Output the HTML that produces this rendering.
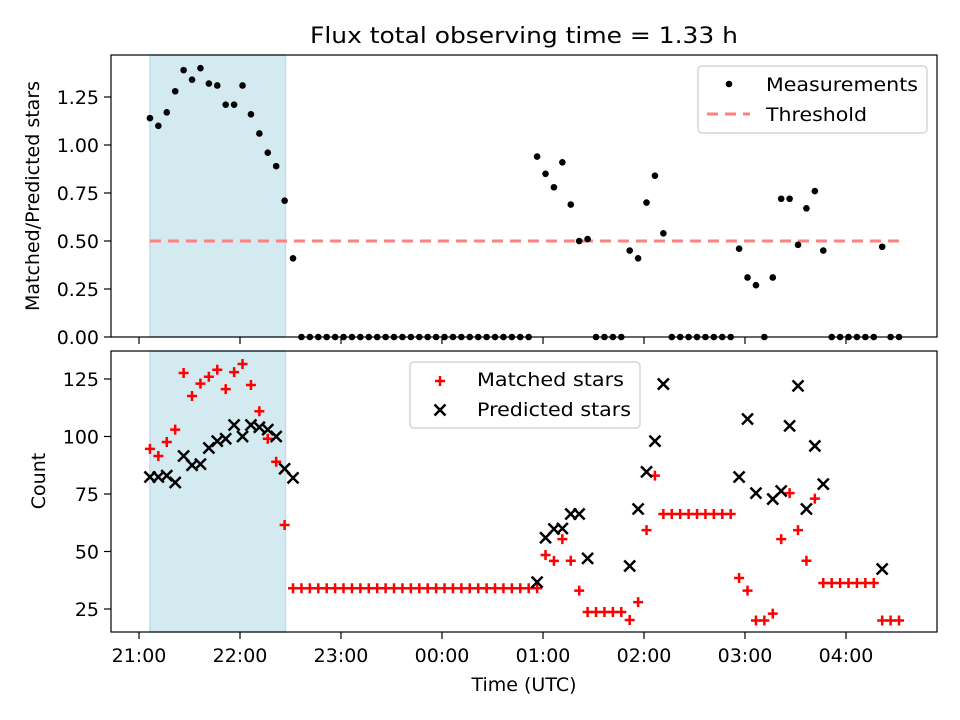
<!DOCTYPE html>
<html><head><meta charset="utf-8"><style>
body{margin:0;background:#fff}
svg{display:block;font-family:"DejaVu Sans","Liberation Sans",sans-serif}
</style></head><body>
<svg id="chart" width="960" height="720" viewBox="0 0 960 720" xmlns="http://www.w3.org/2000/svg">
<text x="524" y="43" font-size="22" text-anchor="middle" textLength="428" lengthAdjust="spacingAndGlyphs">Flux total observing time = 1.33 h</text>
<g id="top"></g>
<g id="bot"></g>
<text transform="translate(39,196) rotate(-90)" font-size="19" text-anchor="middle">Matched/Predicted stars</text>
<text transform="translate(45,481) rotate(-90)" font-size="19" text-anchor="middle">Count</text>
<text x="524" y="691" font-size="19" text-anchor="middle">Time (UTC)</text>
</svg>
<script>
// minutes after 21:00 for sample 0, and sampling step (min)
const t0 = 6.5, step = 5.0;
const ratio = [1.14,1.10,1.17,1.28,1.39,1.34,1.40,1.32,1.31,1.21,1.21,1.31,1.16,1.06,0.96,0.89,0.71,0.41,
0,0,0,0,0,0,0,0,0,0,0,0,0,0,0,0,0,0,0,0,0,0,0,0,0,0,0,0,
0.94,0.85,0.78,0.91,0.69,0.50,0.51,0,0,0,0,0.45,0.41,0.70,0.84,0.54,
0,0,0,0,0,0,0,0,0.46,0.31,0.27,0,0.31,0.72,0.72,0.48,0.67,0.76,0.45,
0,0,0,0,0,0,0.47,0,0];
const matched = [94.6,91.5,97.6,103,127.6,117.6,123,126,129,120.6,128,131.5,122.4,111,99,89,61.5,
34,34,34,34,34,34,34,34,34,34,
34,34,34,34,34,34,34,34,34,34,
34,34,34,34,34,34,34,34,34,34,
48.5,45.9,55.4,46,33,23.7,23.7,23.7,23.7,23.7,20.2,28,59.3,83,
66.3,66.3,66.3,66.3,66.3,66.3,66.3,66.3,66.3,
38.5,33,20,20,23,55.4,75.4,59.3,46,73,
36.3,36.3,36.3,36.3,36.3,36.3,36.3,20,20,20];
const predicted = [82.4,82.4,83,80,91.5,87.5,88,95,98,99,105,100,105,104,103,100,86,82,
null,null,null,null,null,null,null,null,null,null,null,null,null,null,null,null,null,null,null,null,null,null,null,null,null,null,null,null,
36.7,56,59.8,60,66.3,66.3,47,null,null,null,null,43.7,68.5,84.6,98,122.8,
null,null,null,null,null,null,null,null,82.4,107.6,75.4,null,72.8,76.3,104.6,122,68.5,95.9,79.3,
null,null,null,null,null,null,42.4,null,null];
const xTicks = [0,60,120,180,240,300,360,420];
const xTickLabels = ["21:00","22:00","23:00","00:00","01:00","02:00","03:00","04:00"];
const topTicks = [0,0.25,0.5,0.75,1.0,1.25];
const topTickLabels = ["0.00","0.25","0.50","0.75","1.00","1.25"];
const botTicks = [25,50,75,100,125];
const botTickLabels = ["25","50","75","100","125"];
const threshold = 0.5;
const shadeStart = 6.5, shadeEnd = 87;

const NS="http://www.w3.org/2000/svg";
const L=111,R=937;
const X=t=>139+t*101/60;
const Yt=v=>337-v*192;
const Yb=v=>609-(v-25)*2.3;
function mk(tag,attrs,parent){const e=document.createElementNS(NS,tag);for(const k in attrs)e.setAttribute(k,attrs[k]);parent.appendChild(e);return e;}
const tm=i=>t0+i*step;

function panel(g,top,bot,yTicks,yLabels,Y,showXLabels){
  const s=mk('rect',{x:X(shadeStart),y:top,width:X(shadeEnd)-X(shadeStart),height:bot-top,fill:'#d4eaf1',stroke:'#bfdde9','stroke-width':1.5},g);
  
  
  yTicks.forEach((v,i)=>{
    const tk=mk('line',{x1:L-7,x2:L,y1:Y(v),y2:Y(v),stroke:'#000','stroke-width':1.2},g);
    
    
    const tx=mk('text',{x:L-12,y:Y(v)+7,'font-size':19,'text-anchor':'end'},g);
    tx.textContent=yLabels[i];
    
    
  });
  xTicks.forEach((v,i)=>{
    const tk=mk('line',{x1:X(v),x2:X(v),y1:bot,y2:bot+7,stroke:'#000','stroke-width':1.2},g);
    
    
    if(showXLabels){
      const tx=mk('text',{x:X(v),y:bot+30,'font-size':19,'text-anchor':'middle'},g);
      tx.textContent=xTickLabels[i];
      
      
    }
  });
}
function frame(g,top,bot){
  const f=mk('rect',{x:L,y:top,width:R-L,height:bot-top,fill:'none',stroke:'#000','stroke-width':1.2},g);
  
  
}

// top panel
const gt=document.getElementById('top');
panel(gt,55,337,topTicks,topTickLabels,Yt,false);
const th=mk('line',{x1:X(t0),x2:X(tm(ratio.length-1)),y1:Yt(threshold),y2:Yt(threshold),stroke:'#ff8080','stroke-width':3,'stroke-dasharray':'11 7'},gt);


ratio.forEach((v,i)=>{
  if(v==null)return;
  const c=mk('circle',{cx:X(tm(i)),cy:Yt(v),r:3.3,fill:'#000'},gt);
  
  
});
frame(gt,55,337);

// bottom panel
const gb=document.getElementById('bot');
panel(gb,351,632,botTicks,botTickLabels,Yb,true);
matched.forEach((v,i)=>{
  if(v==null)return;
  const x=X(tm(i)),y=Yb(v);
  const p=mk('path',{d:`M${x-5} ${y}H${x+5}M${x} ${y-5}V${y+5}`,stroke:'#ff0000','stroke-width':2.5,fill:'none'},gb);
  
  
});
predicted.forEach((v,i)=>{
  if(v==null)return;
  const x=X(tm(i)),y=Yb(v);
  const p=mk('path',{d:`M${x-5.5} ${y-5.5}L${x+5.5} ${y+5.5}M${x-5.5} ${y+5.5}L${x+5.5} ${y-5.5}`,stroke:'#000','stroke-width':2.5,fill:'none'},gb);
  
  
});
frame(gb,351,632);
</script>
<svg style="position:absolute;left:0;top:0" width="960" height="720">
<rect x="698" y="66" width="229" height="67" rx="4" fill="#fff" fill-opacity="0.8" stroke="#d6d6d6" stroke-width="1.5"/>
<circle cx="729" cy="84" r="3.3" fill="#000"/>
<text x="766" y="91" font-size="19" font-family="DejaVu Sans,sans-serif" textLength="152" lengthAdjust="spacingAndGlyphs">Measurements</text>
<line x1="707" x2="750" y1="114" y2="114" stroke="#ff8080" stroke-width="3" stroke-dasharray="11 7"/>
<text x="766" y="121" font-size="19" font-family="DejaVu Sans,sans-serif" textLength="101" lengthAdjust="spacingAndGlyphs">Threshold</text>
</svg>
<svg style="position:absolute;left:0;top:0" width="960" height="720">
<rect x="410" y="362" width="230" height="66" rx="4" fill="#fff" fill-opacity="0.8" stroke="#d6d6d6" stroke-width="1.5"/>
<path d="M435 381H445M440 376V386" stroke="#ff0000" stroke-width="2.5"/>
<text x="477" y="386" font-size="19" font-family="DejaVu Sans,sans-serif" textLength="147" lengthAdjust="spacingAndGlyphs">Matched stars</text>
<path d="M434.5 404.5L445.5 415.5M434.5 415.5L445.5 404.5" stroke="#000" stroke-width="2.5"/>
<text x="477" y="416" font-size="19" font-family="DejaVu Sans,sans-serif" textLength="154" lengthAdjust="spacingAndGlyphs">Predicted stars</text>
</svg>
</body></html>
